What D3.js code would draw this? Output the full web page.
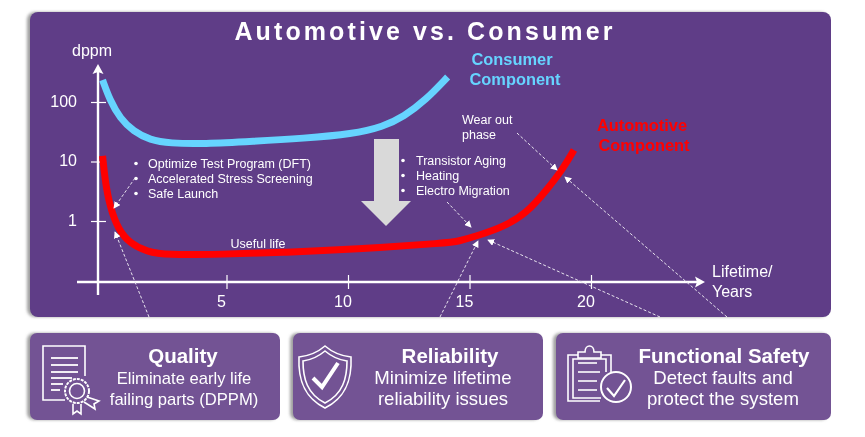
<!DOCTYPE html>
<html>
<head>
<meta charset="utf-8">
<script src="https://cdn.jsdelivr.net/npm/d3@7"></script>
<style>
  html, body { margin: 0; padding: 0; background: #fff; }
  svg { display: block; filter: blur(0.35px); }
  text { font-family: "Liberation Sans", Arial, sans-serif; fill: #fff; }
  .axis path { display: none; }
  .axis line { stroke: #fff; stroke-width: 1.2; }
  .axis text { font-size: 16px; fill: #fff; font-family: "Liberation Sans", Arial, sans-serif; }
  .note { font-size: 12.5px; }
  .icon { fill: none; stroke: #fff; stroke-width: 1.6; }
</style>
</head>
<body>
<div id="chart"></div>
<script>
  'use strict';

  // values: years, dppm
  const consumerYears = [-0.1, 0.2, 0.62, 1.17, 1.85, 2.67, 4.05, 6.1, 8.16, 10.2, 11.45, 12.3, 13.2, 14.1];
  const consumerDppm = [234, 108, 53, 32, 23, 20.2, 19.7, 21.8, 24.5, 29, 38.5, 57, 108, 263];
  const automotiveYears = [-0.1, 0, 0.2, 0.55, 1.03, 1.72, 2.54, 4.73, 7.48, 10.2, 14.2, 14.47, 15.43, 16.4, 17.35, 18.18, 18.86, 19.3];
  const automotiveDppm = [12.4, 4.9, 1.74, 0.71, 0.42, 0.305, 0.268, 0.275, 0.298, 0.334, 0.432, 0.449, 0.582, 0.8, 1.35, 3.32, 7.69, 15.6];

  const xTicks = [5, 10, 15, 20];
  const yTicks = [1, 10, 100];

  const titleText = "Automotive vs. Consumer";
  const testNotes = ["Optimize Test Program (DFT)", "Accelerated Stress Screening", "Safe Launch"];
  const agingNotes = ["Transistor Aging", "Heating", "Electro Migration"];
  const cardTitles = ["Quality", "Reliability", "Functional Safety"];
  const cardLines = [
    ["Eliminate early life", "failing parts (DPPM)"],
    ["Minimize lifetime", "reliability issues"],
    ["Detect faults and", "protect the system"]
  ];

  const size = { width: 865, height: 437 };
  const svg = d3.select("#chart").append("svg")
    .attr("width", size.width)
    .attr("height", size.height);

  const defs = svg.append("defs");

  const shadow = defs.append("filter")
    .attr("id", "shadow")
    .attr("x", "-5%").attr("y", "-5%")
    .attr("width", "110%").attr("height", "110%");
  shadow.append("feDropShadow")
    .attr("dx", -3).attr("dy", 0)
    .attr("stdDeviation", 1.6)
    .attr("flood-color", "#777")
    .attr("flood-opacity", 0.7);

  defs.append("marker")
    .attr("id", "tip")
    .attr("viewBox", "0 0 8 8")
    .attr("refX", 7).attr("refY", 4)
    .attr("markerWidth", 7).attr("markerHeight", 7)
    .attr("markerUnits", "userSpaceOnUse")
    .attr("orient", "auto")
    .append("path")
    .attr("d", "M0,0L8,4L0,8Z")
    .attr("fill", "#fff");

  // main panel
  svg.append("rect")
    .attr("x", 30).attr("y", 12)
    .attr("width", 801).attr("height", 305)
    .attr("rx", 8)
    .attr("fill", "#5e3d87")
    .attr("filter", "url(#shadow)");

  svg.append("text")
    .attr("x", 425).attr("y", 40)
    .attr("text-anchor", "middle")
    .attr("font-size", 25)
    .attr("font-weight", "bold")
    .attr("letter-spacing", 3.1)
    .text(titleText);

  // scales
  const xScale = d3.scaleLinear().domain([0, 20]).range([105, 591]);
  const yScale = d3.scaleLog().domain([1, 100]).range([221, 102]);
  const axisX = 98;
  const axisY = 282;

  // axes
  const xAxis = d3.axisBottom(xScale)
    .tickValues(xTicks)
    .tickSizeOuter(0)
    .tickFormat(d3.format("d"));
  const xAxisG = svg.append("g")
    .attr("class", "axis")
    .attr("transform", "translate(0," + axisY + ")")
    .call(xAxis);
  xAxisG.selectAll("line").attr("y1", -7).attr("y2", 7);
  xAxisG.selectAll("text").attr("dx", -5.5).attr("y", 14).attr("dy", "0.71em");

  const yAxis = d3.axisLeft(yScale)
    .tickValues(yTicks)
    .tickSizeOuter(0)
    .tickFormat(d3.format("d"));
  const yAxisG = svg.append("g")
    .attr("class", "axis")
    .attr("transform", "translate(" + axisX + ",0)")
    .call(yAxis);
  yAxisG.selectAll("line").attr("x1", -7).attr("x2", 8);
  yAxisG.selectAll("text").attr("x", -21).attr("dy", "0.28em");

  svg.append("line")
    .attr("x1", 77).attr("x2", 698)
    .attr("y1", axisY).attr("y2", axisY)
    .attr("stroke", "#fff").attr("stroke-width", 2.4);
  svg.append("line")
    .attr("x1", axisX).attr("x2", axisX)
    .attr("y1", 295).attr("y2", 72)
    .attr("stroke", "#fff").attr("stroke-width", 2.4);
  svg.append("path")
    .attr("d", "M705,282L695,276.5L697,282L695,287.5Z")
    .attr("fill", "#fff");
  svg.append("path")
    .attr("d", "M98,64L92.5,74L98,72L103.5,74Z")
    .attr("fill", "#fff");

  svg.append("text")
    .attr("x", 72).attr("y", 56)
    .attr("font-size", 16)
    .text("dppm");

  const xLabel = svg.append("text").attr("font-size", 16);
  ["Lifetime/", "Years"].forEach((t, i) => {
    xLabel.append("tspan").attr("x", 712).attr("y", 277 + i * 20).text(t);
  });

  // curves
  const line = d3.line()
    .x(d => xScale(d[0]))
    .y(d => yScale(d[1]))
    .curve(d3.curveBasis);

  svg.append("path")
    .datum(d3.zip(consumerYears, consumerDppm))
    .attr("fill", "none")
    .attr("stroke", "#66d4ff")
    .attr("stroke-width", 7)
    .attr("d", line);

  svg.append("path")
    .datum(d3.zip(automotiveYears, automotiveDppm))
    .attr("fill", "none")
    .attr("stroke", "#ff0000")
    .attr("stroke-width", 7)
    .attr("d", line);

  // big arrow from consumer down to automotive
  svg.append("path")
    .attr("d", "M374,139H399V201H411L386,226L361,201H374Z")
    .attr("fill", "#d9d9d9");

  // curve names
  const consumerName = svg.append("text")
    .attr("text-anchor", "middle")
    .attr("font-size", 16.4)
    .attr("font-weight", "bold")
    .style("fill", "#66d4ff");
  ["Consumer", "Component"].forEach((t, i) => {
    consumerName.append("tspan").attr("x", i ? 515 : 512).attr("y", 65 + i * 20).text(t);
  });

  const automotiveName = svg.append("text")
    .attr("text-anchor", "middle")
    .attr("font-size", 16.4)
    .attr("font-weight", "bold")
    .style("fill", "#ff0000");
  ["Automotive", "Component"].forEach((t, i) => {
    automotiveName.append("tspan").attr("x", i ? 644 : 642).attr("y", 131 + i * 20).text(t);
  });

  // notes
  function bulletList(items, bulletX, textX, firstY) {
    items.forEach((t, i) => {
      svg.append("circle")
        .attr("cx", bulletX).attr("cy", firstY + i * 15 - 4.5)
        .attr("r", 1.8).attr("fill", "#fff");
      svg.append("text")
        .attr("class", "note")
        .attr("x", textX).attr("y", firstY + i * 15)
        .text(t);
    });
  }
  bulletList(testNotes, 136, 148, 168);
  bulletList(agingNotes, 403, 416, 165);

  svg.append("text").attr("class", "note")
    .attr("x", 258).attr("y", 248)
    .attr("text-anchor", "middle")
    .text("Useful life");

  const wearNote = svg.append("text").attr("class", "note");
  ["Wear out", "phase"].forEach((t, i) => {
    wearNote.append("tspan").attr("x", 462).attr("y", 124 + i * 15).text(t);
  });

  // dashed leaders: [from x, from y, to x, to y]
  const leaders = [
    [135, 178, 114, 208],
    [149, 317, 115, 232],
    [447, 202, 471, 227],
    [440, 317, 478, 241],
    [660, 317, 488, 240],
    [727, 317, 565, 177],
    [517, 133, 557, 170]
  ];
  svg.selectAll(".leader")
    .data(leaders)
    .join("line")
    .attr("class", "leader")
    .attr("x1", d => d[0]).attr("y1", d => d[1])
    .attr("x2", d => d[2]).attr("y2", d => d[3])
    .attr("stroke", "#e8e4ee")
    .attr("stroke-width", 1)
    .attr("stroke-dasharray", "3,2")
    .attr("marker-end", "url(#tip)");

  // cards; the first card has smaller body text than the other two
  const cardBoxes = [
    { x: 30, w: 250, titleX: 183, bodyX: 184, bodySize: 16.6 },
    { x: 293, w: 250, titleX: 450, bodyX: 443, bodySize: 18.6 },
    { x: 556, w: 275, titleX: 724, bodyX: 723, bodySize: 18.6 }
  ];
  cardBoxes.forEach((c, i) => {
    svg.append("rect")
      .attr("x", c.x).attr("y", 333)
      .attr("width", c.w).attr("height", 87)
      .attr("rx", 7)
      .attr("fill", "#735394")
      .attr("filter", "url(#shadow)");
    svg.append("text")
      .attr("x", c.titleX).attr("y", 363)
      .attr("text-anchor", "middle")
      .attr("font-size", 20.5)
      .attr("font-weight", "bold")
      .text(cardTitles[i]);
    cardLines[i].forEach((t, j) => {
      svg.append("text")
        .attr("x", c.bodyX).attr("y", 384 + j * 21)
        .attr("text-anchor", "middle")
        .attr("font-size", c.bodySize)
        .text(t);
    });
  });

  // certificate icon
  const cert = svg.append("g").attr("class", "icon");
  cert.append("path").attr("d", "M65,400H43V346H85V376");
  [358, 365, 372, 378, 384, 390].forEach((y, i) => {
    cert.append("line")
      .attr("x1", 51).attr("x2", i < 3 ? 78 : (i === 3 ? 72 : (i === 4 ? 63 : 60)))
      .attr("y1", y).attr("y2", y)
      .attr("stroke-width", 1.8);
  });
  cert.append("circle").attr("cx", 77).attr("cy", 391).attr("r", 12)
    .attr("fill", "#735394").attr("stroke-dasharray", "3,1").attr("stroke-width", 2);
  cert.append("circle").attr("cx", 77).attr("cy", 391).attr("r", 7.5);
  cert.append("path").attr("d", "M73,404V414L77,411L81,414V404M87,397L99,401L94,404L95,409L84,402");

  // shield icon
  const shield = svg.append("g").attr("class", "icon");
  shield.append("path").attr("d", "M325,346C318,352 308,356 299,357C298,378 303,397 325,408C347,397 352,378 351,357C342,356 332,352 325,346Z");
  shield.append("path").attr("d", "M325,351C319,356 311,360 303,361C303,378 307,394 325,403C343,394 347,378 347,361C339,360 331,356 325,351Z");
  shield.append("path")
    .attr("d", "M313,378L322,387L338,363")
    .attr("stroke-width", 4);

  // clipboard icon
  const clip = svg.append("g").attr("class", "icon");
  clip.append("path").attr("d", "M600,401H568V355H611V372");
  clip.append("path").attr("d", "M601,398H573V359H606V372");
  clip.append("path").attr("d", "M578,358V352H585C585,344 594,344 594,352H601V358Z")
    .attr("fill", "#735394");
  [363, 372, 381, 390].forEach((y, i) => {
    clip.append("line")
      .attr("x1", 578).attr("x2", i === 1 ? 600 : 597)
      .attr("y1", y).attr("y2", y);
  });
  clip.append("circle").attr("cx", 616).attr("cy", 387).attr("r", 15)
    .attr("fill", "#735394").attr("stroke-width", 2);
  clip.append("path").attr("d", "M607,388L614,396L625,380").attr("stroke-width", 2.2);
</script>
</body>
</html>
